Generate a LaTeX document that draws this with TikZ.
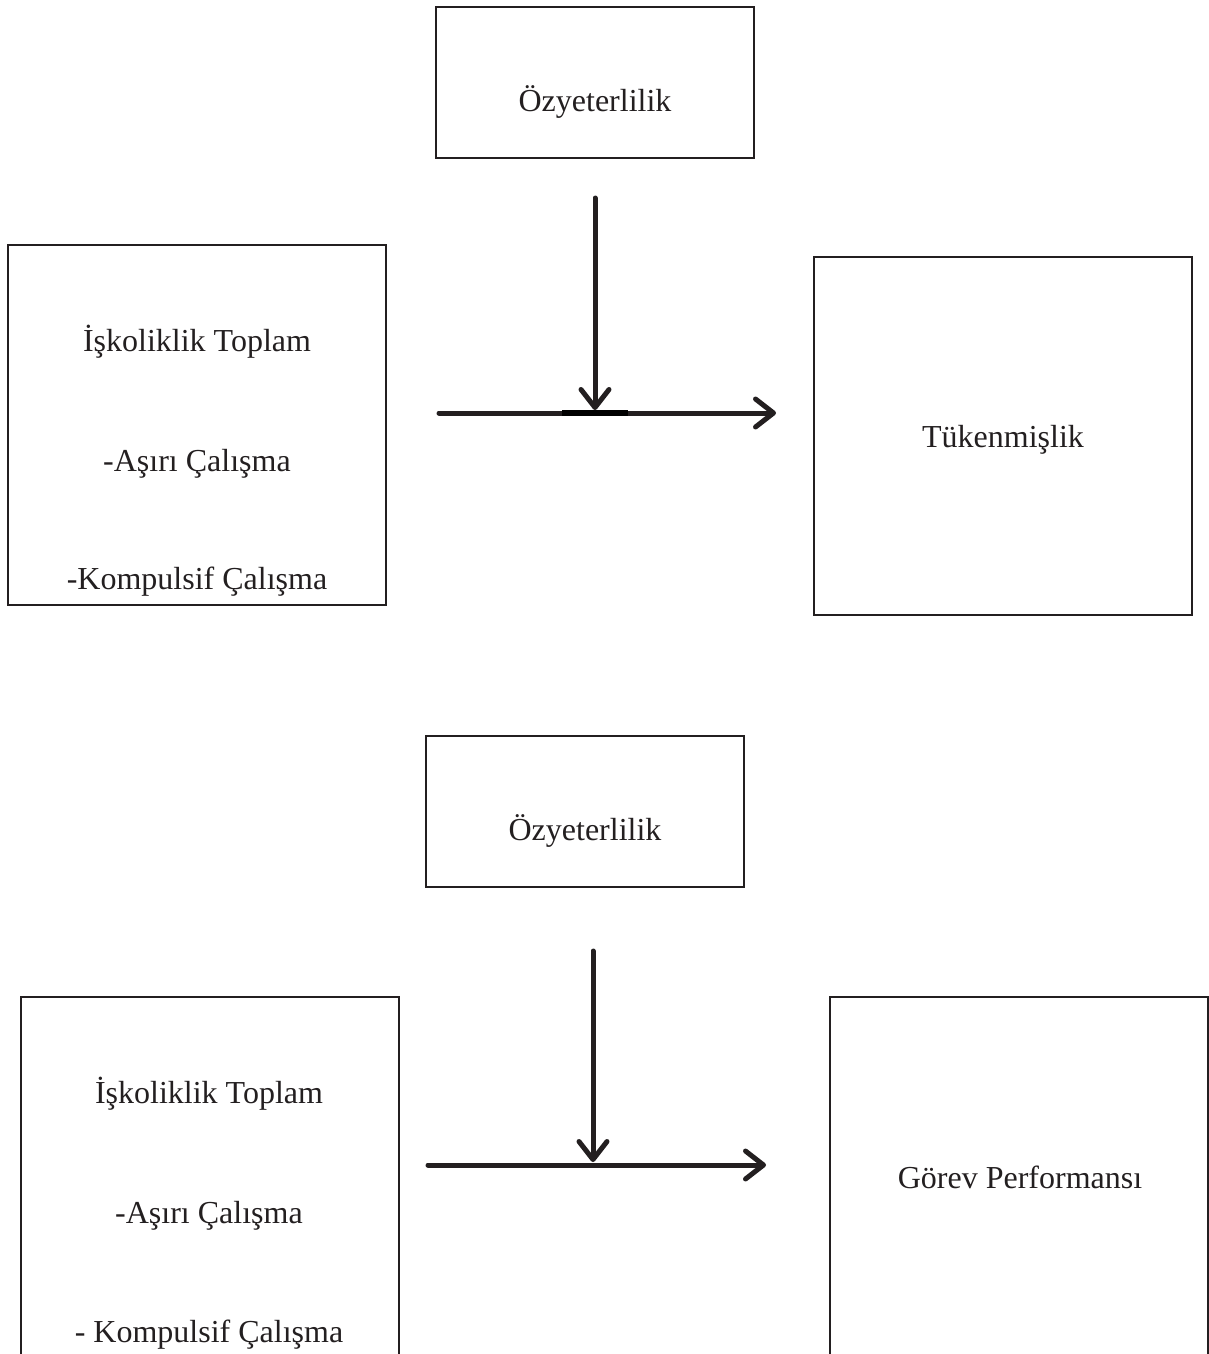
\documentclass[tikz,border=0pt]{standalone}
\usepackage{fontspec}
\setmainfont{Liberation Serif}
\usetikzlibrary{arrows.meta}
\definecolor{ink}{HTML}{231F20}
\begin{document}
\begin{tikzpicture}[x=1pt,y=-1pt,
  box/.style={draw=ink,line width=2pt,inner sep=0pt,minimum width=#1},
  lbl/.style={anchor=base,inner sep=0pt,text=ink,font=\fontsize{32}{38}\selectfont},
  arr/.style={draw=ink,line width=5pt,line cap=round,-{Straight Barb[length=18pt,width=28pt,line width=5pt,round]}},
  flat/.style={draw=ink,line width=5pt,line cap=round}]
\useasboundingbox (0,0) rectangle (1209,1354);
\clip (0,0) rectangle (1209,1354);
% ---- top diagram ----
\node[box=318pt,minimum height=151pt] (oz1) at (595,82.5) {};
\node[box=378pt,minimum height=360pt] (isk1) at (197,425) {};
\node[box=378pt,minimum height=358pt] (tuk) at (1003,436) {};
\node[lbl] (oz1t) at (595,111) {Özyeterlilik};
\node[lbl] (isk1a) at (197,351) {İşkoliklik Toplam};
\node[lbl] (isk1b) at (197,471) {-Aşırı Çalışma};
\node[lbl] (isk1c) at (197,589) {-Kompulsif Çalışma};
\node[lbl] (tukt) at (1003,447) {Tükenmişlik};
\coordinate (h1s) at (439,413);
\coordinate (h1e) at (776,413);
\coordinate (v1s) at (595,198);
\coordinate (v1e) at (595,410);
\coordinate (m1a) at (562,413);
\coordinate (m1b) at (628,413);
\draw[flat] (h1s) -- (m1a);
\draw[arr] (m1b) -- (h1e);
\draw[black,line width=6.5pt] (m1a) -- (m1b);
\draw[arr] (v1s) -- (v1e);
% ---- bottom diagram ----
\node[box=318pt,minimum height=151pt] (oz2) at (585,811.5) {};
\node[box=378pt,minimum height=420pt] (isk2) at (210,1207) {};
\node[box=378pt,minimum height=420pt] (gor) at (1019,1207) {};
\node[lbl] (oz2t) at (585,840) {Özyeterlilik};
\node[lbl] (isk2a) at (209,1103) {İşkoliklik Toplam};
\node[lbl] (isk2b) at (209,1223) {-Aşırı Çalışma};
\node[lbl] (isk2c) at (209,1342) {- Kompulsif Çalışma};
\node[lbl] (gort) at (1020,1188) {Görev Performansı};
\coordinate (h2s) at (428,1165);
\coordinate (h2e) at (766,1165);
\coordinate (v2s) at (593,951);
\coordinate (v2e) at (593,1162);
\draw[arr] (h2s) -- (h2e);
\draw[arr] (v2s) -- (v2e);
\end{tikzpicture}
\end{document}
